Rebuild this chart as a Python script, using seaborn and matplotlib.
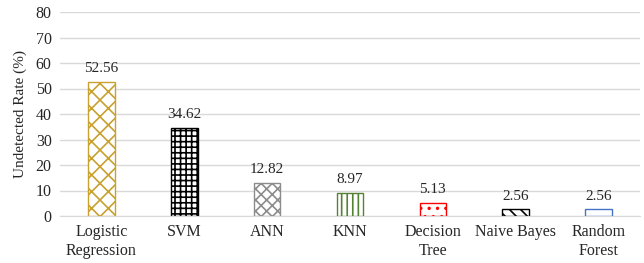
import pandas as pd
import seaborn as sns
import matplotlib.pyplot as plt

models = ["Logistic\nRegression", "SVM", "ANN", "KNN", "Decision\nTree", "Naive Bayes", "Random\nForest"]
rates = [52.56, 34.62, 12.82, 8.97, 5.13, 2.56, 2.56]
edge_colors = ["#C8A12E", "black", "#8C8C8C", "#548235", "#FF0000", "black", "#4472C4"]
hatches = ["xx", "+++", "xxx", "|||", "..", "\\\\\\", ""]

df = pd.DataFrame({"model": models, "rate": rates})

sns.set_style("white")
plt.rcParams["font.family"] = ["Liberation Serif", "DejaVu Serif"]
plt.rcParams["hatch.linewidth"] = 1.2

fig = plt.figure(figsize=(6.44, 2.63), dpi=100)
ax = fig.add_axes([60 / 644, 47 / 263, 580 / 644, 204 / 263])
sns.barplot(data=df, x="model", y="rate", color="white", width=0.32, ax=ax)

for bar, ec, h in zip(ax.patches, edge_colors, hatches):
    bar.set_edgecolor(ec)
    bar.set_hatch(h)
    bar.set_linewidth(1.0)
    bar.set_facecolor("white")
    ax.annotate(f"{bar.get_height():.2f}", (bar.get_x() + bar.get_width() / 2, bar.get_height()),
                xytext=(0, 5), textcoords="offset points", ha="center", va="bottom", fontsize=11)

ax.set_ylim(0, 80)
ax.set_yticks(range(0, 81, 10))
ax.yaxis.grid(True, color="#D9D9D9", linewidth=1)
ax.set_axisbelow(True)
for s in ["top", "right", "left"]:
    ax.spines[s].set_visible(False)
ax.spines["bottom"].set_color("#D9D9D9")
ax.tick_params(axis="both", length=0, labelsize=11.5, pad=6)
ax.set_xlabel("")
ax.set_ylabel("Undetected Rate (%)", fontsize=11, labelpad=6)

plt.savefig("out.png", dpi=100)
plt.close()
